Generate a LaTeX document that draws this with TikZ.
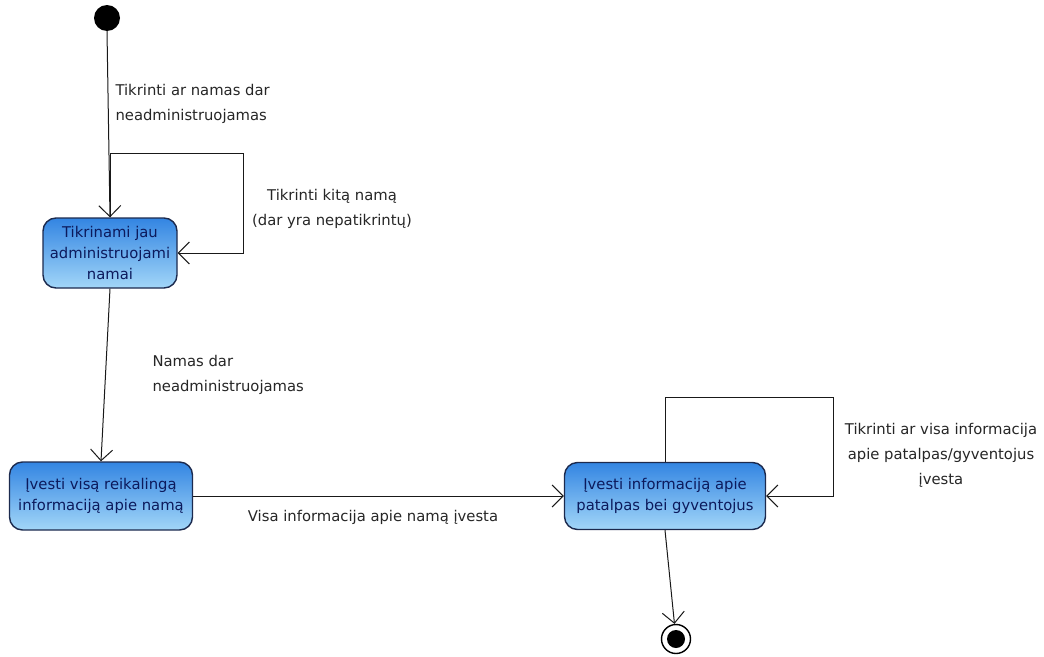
\documentclass[tikz,border=0pt]{standalone}
\usepackage{fontspec}
\setmainfont{DejaVu Sans}
\usetikzlibrary{arrows.meta}
\definecolor{boxtop}{HTML}{3385E2}
\definecolor{boxbot}{HTML}{A2D6F8}
\definecolor{boxline}{HTML}{1C2A4E}
\definecolor{boxtext}{HTML}{0C1A5C}

\begin{document}
\begin{tikzpicture}[x=1pt, y=-1pt,
    state/.style={draw=boxline, line width=1.4pt, rounded corners=13pt, top color=boxtop,
      bottom color=boxbot, text=boxtext, align=center, inner sep=2pt,
      font=\fontsize{14.8}{21}\selectfont},
    trans/.style={draw=black!90, line width=1pt, -{Straight Barb[length=11pt, width=22pt]}},
    lbl/.style={text=black!85, font=\fontsize{14.8}{25}\selectfont}]
  \useasboundingbox (0,0) rectangle (1044,656);
  % start and end
  \fill (107,18) circle [radius=13];
  \coordinate (init) at (107,31);
  \node [circle, draw, line width=1.4pt, minimum size=29pt, inner sep=0pt] (final) at (676,639) {};
  \fill (final) circle [radius=9];
  % states
  \node [state, minimum width=134pt, minimum height=70pt] (check) at (110,253)
    {Tikrinami jau\\administruojami\\namai};
  \node [state, minimum width=183pt, minimum height=68pt] (house) at (101,496)
    {Įvesti visą reikalingą\\informaciją apie namą};
  \node [state, minimum width=201pt, minimum height=67pt] (rooms) at (665,496)
    {Įvesti informaciją apie\\patalpas bei gyventojus};
  % transitions
  \draw [trans] (init) -- (check.north);
  \draw [trans] (check.north) |- (243,153) |- (check.east);
  \draw [trans] (check.south) -- (house.north);
  \draw [trans] (house.east) -- (rooms.west);
  \draw [trans] (rooms.north) |- (833,397) |- (rooms.east);
  \draw [trans] (rooms.south) -- (final);
  % labels
  \node [lbl, anchor=west, align=left] (lblstart) at (112,104)
    {Tikrinti ar namas dar\\neadministruojamas};
  \node [lbl, align=center] (lblnext) at (332,209)
    {Tikrinti kitą namą\\(dar yra nepatikrintų)};
  \node [lbl, anchor=west, align=left] (lblnew) at (149,375)
    {Namas dar\\neadministruojamas};
  \node [lbl] (lbldone) at (373,517) {Visa informacija apie namą įvesta};
  \node [lbl, align=center] (lblrooms) at (941,455)
    {Tikrinti ar visa informacija\\apie patalpas/gyventojus\\įvesta};
\end{tikzpicture}
\end{document}
